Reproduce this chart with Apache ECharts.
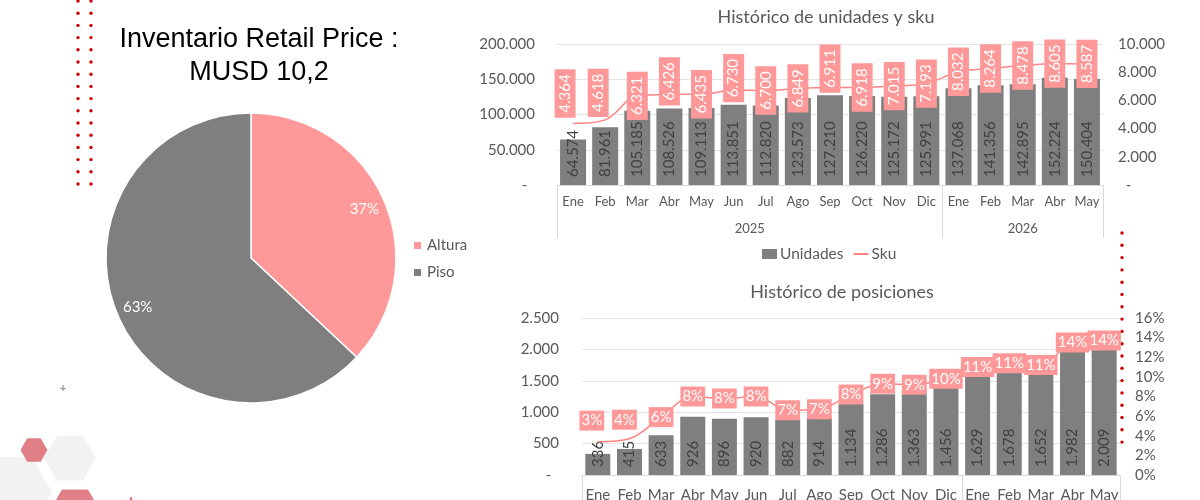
<!DOCTYPE html>
<html>
<head>
<meta charset="utf-8">
<script src="https://cdn.jsdelivr.net/npm/echarts@6/dist/echarts.min.js"></script>
<style>html,body{margin:0;padding:0;background:#fff}#c{width:1200px;height:500px}</style>
</head>
<body>
<div id="c"></div>
<script>
const months = ['Ene','Feb','Mar','Abr','May','Jun','Jul','Ago','Sep','Oct','Nov','Dic','Ene','Feb','Mar','Abr','May'];
const years = ['2025','2026'];
const unidades = [64574,81961,105185,108526,109113,113851,112820,123573,127210,126220,125172,125991,137068,141356,142895,152224,150404];
const sku = [4364,4618,6321,6426,6435,6730,6700,6849,6911,6918,7015,7193,8032,8264,8478,8605,8587];
const posiciones = [336,415,633,926,896,920,882,914,1134,1286,1363,1456,1629,1678,1652,1982,2009];
const posPct = [3.4,3.7,5.9,8.0,7.8,8.0,6.6,6.7,8.2,9.3,9.2,9.8,11.0,11.4,11.2,13.5,13.7];
const pieNames = ['Altura','Piso'];
const pieValues = [37,63];
// label shifts (styling only): [up, left] in pixels
const skuLabelUp = [30,27,0,13,0,12,0,0,19,0,0,0,0,0,0,0,0];
const skuLabelLeft = [8,7,0,0,0,0,0,0,0,0,0,0,0,0,0,0,0];
const pctLabelUp = [21,19,0,0,0,0,0,0,0,0,0,0,0,0,0,0,0];
const pctLabelLeft = [6,5,0,0,0,0,0,0,0,0,0,0,0,0,0,0,0];

const PINK = '#FF9999', LINE = '#FF8585', GRAY = '#7F7F7F', TXT = '#595959', FONT = 'Lato';
function fmt(v){ return String(Math.round(v)).replace(/\B(?=(\d{3})+(?!\d))/g,'.'); }

const chart = echarts.init(document.getElementById('c'));

// decorations
const graphics = [];
for (let i = 0; i < 16; i++) {
  [78, 91].forEach(x => graphics.push({type:'circle', shape:{cx:x, cy:1 + i*12.2, r:1.7}, style:{fill:'#D00000'}, silent:true}));
}
for (let i = 0; i < 18; i++) {
  graphics.push({type:'circle', shape:{cx:1122, cy:233 + i*12.3, r:1.7}, style:{fill:'#D00000'}, silent:true});
}
function hex(cx, cy, R, fill){
  const pts = [];
  for (let k = 0; k < 6; k++) { const a = Math.PI/3*k; pts.push([cx + R*Math.cos(a), cy + R*Math.sin(a)]); }
  return {type:'polygon', shape:{points:pts}, style:{fill}, silent:true, z:-1};
}
graphics.push(hex(12, 492, 40, '#F2F2F2'));
graphics.push(hex(70, 458, 26, '#F2F2F2'));
graphics.push(hex(34, 450, 13.5, '#E07F85'));
graphics.push(hex(75, 512, 26, '#E07F85'));
graphics.push({type:'text', x:63, y:388, style:{text:'+', font:'bold 12px Lato', fill:'#999', align:'center', verticalAlign:'middle'}, silent:true});
graphics.push({type:'text', x:131, y:500, style:{text:'+', font:'bold 12px Lato', fill:'#D00000', align:'center', verticalAlign:'middle'}, silent:true});
// titles
graphics.push({type:'text', x:259, y:56, style:{text:'Inventario Retail Price :\nMUSD 10,2', font:'27px "Liberation Sans"', lineHeight:33, fill:'#000', align:'center', verticalAlign:'middle'}});
graphics.push({type:'text', x:826, y:17, style:{text:'Histórico de unidades y sku', font:'18px Lato', fill:TXT, align:'center', verticalAlign:'middle'}});
graphics.push({type:'text', x:842, y:292, style:{text:'Histórico de posiciones', font:'18px Lato', fill:TXT, align:'center', verticalAlign:'middle'}});

function monthAxis(grid, fs, margin){
  return {type:'category', gridIndex:grid, data:months, position:'bottom',
    axisLine:{show:true, lineStyle:{color:'#D9D9D9'}}, axisTick:{show:false},
    axisLabel:{interval:0, color:TXT, fontFamily:FONT, fontSize:fs, margin:margin}};
}
function yearAxis(grid, fs, margin){
  return {type:'value', gridIndex:grid, min:0, max:months.length, position:'bottom',
    axisLine:{show:false}, splitLine:{show:false},
    axisTick:{show:true, customValues:[0,12,17], length:53, lineStyle:{color:'#D9D9D9'}},
    axisLabel:{customValues:[6,14.5], formatter:v => v < 12 ? years[0] : years[1], color:TXT, fontFamily:FONT, fontSize:fs, margin:margin}};
}

const option = {
  animation:false,
  textStyle:{fontFamily:FONT},
  graphic:graphics,
  grid:[
    {left:557, right:97, top:44, bottom:315, containLabel:false, outerBoundsMode:'none'},
    {left:582, right:80, top:318, bottom:25, containLabel:false, outerBoundsMode:'none'}
  ],
  legend:[
    {data:pieNames, orient:'vertical', left:407, top:233, itemWidth:9, itemHeight:9, itemGap:12, icon:'rect',
     textStyle:{color:TXT, fontFamily:FONT, fontSize:15}},
    {data:[{name:'Unidades', icon:'rect'}, {name:'Sku', itemStyle:{opacity:0}}], left:757, top:241, itemWidth:15, itemHeight:10, itemGap:9,
     textStyle:{color:TXT, fontFamily:FONT, fontSize:15.5, padding:[0,0,0,-2]}}
  ],
  xAxis:[monthAxis(0,13,10), yearAxis(0,13,37), monthAxis(1,15,13), yearAxis(1,15,40)],
  yAxis:[
    {type:'value', gridIndex:0, min:0, max:200000, interval:50000,
     splitLine:{lineStyle:{color:'#E3E3E3'}}, axisLine:{show:false}, axisTick:{show:false},
     axisLabel:{margin:22, color:TXT, fontFamily:FONT, fontSize:15, formatter:v => v === 0 ? '-  ' : fmt(v)}},
    {type:'value', gridIndex:0, min:0, max:10000, interval:2000, position:'right',
     splitLine:{show:false}, axisLine:{show:false}, axisTick:{show:false},
     axisLabel:{margin:15, color:TXT, fontFamily:FONT, fontSize:15, formatter:v => v === 0 ? '  -' : fmt(v)}},
    {type:'value', gridIndex:1, min:0, max:2500, interval:500,
     splitLine:{lineStyle:{color:'#E3E3E3'}}, axisLine:{show:false}, axisTick:{show:false},
     axisLabel:{margin:23, color:TXT, fontFamily:FONT, fontSize:15, formatter:v => v === 0 ? '-  ' : fmt(v)}},
    {type:'value', gridIndex:1, min:0, max:16, interval:2, position:'right',
     splitLine:{show:false}, axisLine:{show:false}, axisTick:{show:false},
     axisLabel:{margin:15, color:TXT, fontFamily:FONT, fontSize:15, formatter:v => v + '%'}}
  ],
  series:[
    {type:'pie', name:'Inventario', center:[251,258], radius:145, startAngle:90, clockwise:true,
     data:pieNames.map((n,i) => ({name:n, value:pieValues[i], itemStyle:{color:i===0?PINK:GRAY}})),
     itemStyle:{borderColor:'#fff', borderWidth:1.5}, label:{show:false}, labelLine:{show:false}, silent:true},
    {type:'pie', name:'InventarioLabels', center:[251,258], radius:[100,141], startAngle:90, clockwise:true,
     data:pieNames.map((n,i) => ({name:n, value:pieValues[i]})),
     itemStyle:{color:'rgba(0,0,0,0)'}, silent:true, legendHoverLink:false,
     label:{show:true, position:'inside', formatter:'{d}%', color:'#fff', fontFamily:FONT, fontSize:15}, labelLine:{show:false}},
    {type:'bar', name:'Unidades', xAxisIndex:0, yAxisIndex:0, data:unidades, barCategoryGap:'19%',
     itemStyle:{color:GRAY},
     label:{show:true, position:'insideBottom', rotate:90, align:'left', verticalAlign:'middle', distance:8,
       color:'#404040', fontFamily:FONT, fontSize:15, formatter:p => fmt(p.value)}},
    {type:'line', name:'Sku', xAxisIndex:0, yAxisIndex:1, smooth:0.35, symbol:'circle', symbolSize:1,
     itemStyle:{color:LINE}, lineStyle:{color:LINE, width:1.5},
     data:sku.map((v,i) => ({value:v, label:{offset:[skuLabelUp[i], -skuLabelLeft[i]]}})),
     label:{show:true, position:'inside', rotate:90, color:'#fff', backgroundColor:PINK, padding:[3,5],
       fontFamily:FONT, fontSize:15, formatter:p => fmt(p.value)}},
    {type:'bar', name:'Posiciones', xAxisIndex:2, yAxisIndex:2, data:posiciones, barCategoryGap:'21%',
     itemStyle:{color:GRAY},
     label:{show:true, position:'insideBottom', rotate:90, align:'left', verticalAlign:'middle', distance:8,
       color:'#404040', fontFamily:FONT, fontSize:15, formatter:p => fmt(p.value)}},
    {type:'line', name:'%', xAxisIndex:2, yAxisIndex:3, smooth:0.35, symbol:'circle', symbolSize:1,
     itemStyle:{color:LINE}, lineStyle:{color:LINE, width:1.5},
     data:posPct.map((v,i) => ({value:v, label:{offset:[-pctLabelLeft[i], -pctLabelUp[i]]}})),
     label:{show:true, position:'inside', color:'#fff', backgroundColor:PINK, padding:[3,2,2,2],
       fontFamily:FONT, fontSize:15, formatter:p => Math.round(p.value) + '%'}}
  ]
};
chart.setOption(option);
</script>
</body>
</html>
